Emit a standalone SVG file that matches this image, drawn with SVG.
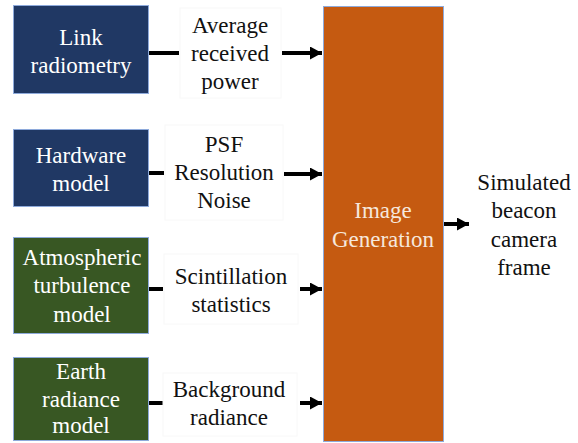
<svg xmlns="http://www.w3.org/2000/svg" width="578" height="443" viewBox="0 0 578 443" font-family="'Liberation Serif', 'DejaVu Serif', serif" font-size="23" text-anchor="middle">
<style>
text{font-family:'Liberation Serif','DejaVu Serif',serif;font-size:23px;text-anchor:middle}
.w{fill:#ffffff}.k{fill:#111111}
.navy{fill:#203864;stroke:#8eaadb;stroke-width:1}
.green{fill:#385723;stroke:#8eaadb;stroke-width:1}
.orange{fill:#c55a11;stroke:#8eaadb;stroke-width:1}
.lab{fill:#ffffff;stroke:#f8f8f8;stroke-width:1}
.c{stroke:#000;stroke-width:4;fill:none}
</style>
<defs>
<marker id="ah" markerUnits="userSpaceOnUse" markerWidth="13" markerHeight="13" refX="12" refY="6.5" orient="auto"><path d="M0,0 L12,6.5 L0,13 Z" fill="#000"/></marker>
</defs>
<rect width="578" height="443" fill="#ffffff"/>
<g id="connectors">
<line class="c" x1="149" y1="53" x2="179" y2="53"/>
<line class="c" x1="282" y1="53" x2="322" y2="53" marker-end="url(#ah)"/>
<line class="c" x1="149" y1="173" x2="164" y2="173"/>
<line class="c" x1="284" y1="174" x2="322" y2="174" marker-end="url(#ah)"/>
<line class="c" x1="149" y1="289" x2="163" y2="289"/>
<line class="c" x1="300" y1="289" x2="322" y2="289" marker-end="url(#ah)"/>
<line class="c" x1="149" y1="403" x2="163" y2="403"/>
<line class="c" x1="300" y1="403" x2="322" y2="403" marker-end="url(#ah)"/>
<line class="c" x1="444" y1="224" x2="469" y2="224" marker-end="url(#ah)"/>
</g>
<g id="link-radiometry">
<rect class="navy" x="13.5" y="5.5" width="135" height="88"/>
<text class="w" x="81" y="45">Link</text>
<text class="w" x="81" y="73">radiometry</text>
</g>
<g id="label-power">
<rect class="lab" x="180" y="8" width="101" height="90"/>
<text class="k" x="230" y="33">Average</text>
<text class="k" x="230" y="61">received</text>
<text class="k" x="230" y="89">power</text>
</g>
<g id="hardware-model">
<rect class="navy" x="13.5" y="129.5" width="135" height="77"/>
<text class="w" x="81" y="163">Hardware</text>
<text class="w" x="81" y="191">model</text>
</g>
<g id="label-psf">
<rect class="lab" x="165" y="125" width="118" height="95"/>
<text class="k" x="224" y="152">PSF</text>
<text class="k" x="224" y="180">Resolution</text>
<text class="k" x="224" y="208">Noise</text>
</g>
<g id="atmospheric-turbulence">
<rect class="green" x="13.5" y="237.5" width="135" height="96"/>
<text class="w" x="82" y="265">Atmospheric</text>
<text class="w" x="82" y="293">turbulence</text>
<text class="w" x="82" y="322">model</text>
</g>
<g id="label-scint">
<rect class="lab" x="164" y="254" width="134" height="70"/>
<text class="k" x="231" y="284">Scintillation</text>
<text class="k" x="231" y="312">statistics</text>
</g>
<g id="earth-radiance">
<rect class="green" x="13.5" y="357.5" width="135" height="83"/>
<text class="w" x="81" y="379">Earth</text>
<text class="w" x="81" y="407">radiance</text>
<text class="w" x="81" y="433">model</text>
</g>
<g id="label-bg">
<rect class="lab" x="163" y="373" width="134" height="63"/>
<text class="k" x="229" y="397">Background</text>
<text class="k" x="229" y="425">radiance</text>
</g>
<g id="image-generation">
<rect class="orange" x="323.5" y="6.5" width="120" height="435"/>
<text fill="#f6e7dc" x="383" y="218">Image</text>
<text fill="#f6e7dc" x="383" y="247">Generation</text>
</g>
<g id="output">
<text class="k" x="524" y="190">Simulated</text>
<text class="k" x="524" y="218">beacon</text>
<text class="k" x="524" y="247">camera</text>
<text class="k" x="524" y="275">frame</text>
</g>
</svg>
